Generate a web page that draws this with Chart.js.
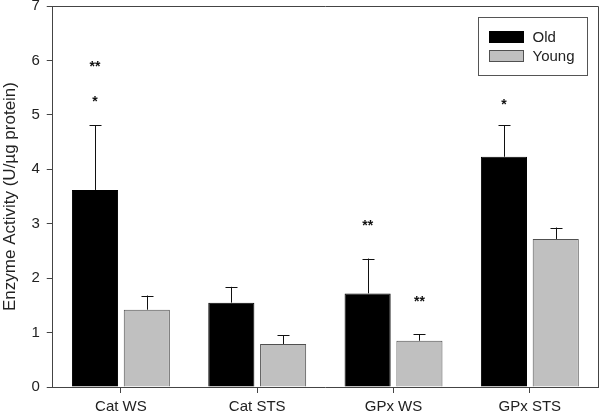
<!DOCTYPE html>
<html>
<head>
<meta charset="utf-8">
<script src="https://cdn.jsdelivr.net/npm/chart.js@4.4.1/dist/chart.umd.min.js"></script>
<style>
  html, body { margin: 0; padding: 0; background: #fff; }
  #wrap { width: 600px; height: 414px; }
</style>
</head>
<body>
<div id="wrap"><canvas id="enzymeChart" width="600" height="414"></canvas></div>
<script>
// --- Data ---
const categories = ['Cat WS', 'Cat STS', 'GPx WS', 'GPx STS'];
const oldMeans = [3.62, 1.55, 1.72, 4.23];
const oldErrors = [1.19, 0.29, 0.64, 0.58];
const youngMeans = [1.42, 0.79, 0.85, 2.72];
const youngErrors = [0.26, 0.16, 0.12, 0.21];
const yTicks = [0, 1, 2, 3, 4, 5, 6, 7];

// significance marks: category index, series index (0 old, 1 young), height, text
const sigCategory = [0, 0, 2, 2, 3];
const sigSeries = [0, 0, 0, 1, 0];
const sigValue = [5.92, 5.27, 3.0, 1.6, 5.22];
const sigText = ['**', '*', '**', '**', '*'];

const errors = [oldErrors, youngErrors];
const axisColor = '#444';
const textColor = '#222';
const fontFamily = '"Liberation Sans", Arial, sans-serif';

// error bars (upper only) drawn from the bar elements
const errorBarPlugin = {
  id: 'errorBars',
  afterDatasetsDraw(chart) {
    const ctx = chart.ctx;
    const y = chart.scales.y;
    ctx.save();
    ctx.strokeStyle = '#111';
    ctx.lineWidth = 1;
    chart.data.datasets.forEach((ds, di) => {
      chart.getDatasetMeta(di).data.forEach((bar, i) => {
        const top = y.getPixelForValue(ds.data[i] + errors[di][i]);
        const x = Math.round(bar.x) + 0.5;
        ctx.beginPath();
        ctx.moveTo(x, bar.y);
        ctx.lineTo(x, top);
        ctx.moveTo(x - 6, Math.round(top) + 0.5);
        ctx.lineTo(x + 6, Math.round(top) + 0.5);
        ctx.stroke();
      });
    });
    ctx.restore();
  }
};

// asterisks above bars
const sigPlugin = {
  id: 'sigMarks',
  afterDatasetsDraw(chart) {
    const ctx = chart.ctx;
    const y = chart.scales.y;
    const size = 14;
    ctx.save();
    ctx.fillStyle = '#111';
    ctx.font = 'bold ' + size + 'px ' + fontFamily;
    ctx.textAlign = 'center';
    ctx.textBaseline = 'alphabetic';
    sigText.forEach((t, k) => {
      const bar = chart.getDatasetMeta(sigSeries[k]).data[sigCategory[k]];
      ctx.fillText(t, bar.x, y.getPixelForValue(sigValue[k]) + size * 0.43);
    });
    ctx.restore();
  }
};

// top and right frame lines + boxed legend inside the plot
const framePlugin = {
  id: 'frameLegend',
  afterDraw(chart) {
    const ctx = chart.ctx;
    const a = chart.chartArea;
    ctx.save();
    ctx.strokeStyle = axisColor;
    ctx.lineWidth = 1;
    ctx.beginPath();
    ctx.moveTo(a.left, Math.round(a.top) + 0.5);
    ctx.lineTo(Math.round(a.right) + 0.5, Math.round(a.top) + 0.5);
    ctx.lineTo(Math.round(a.right) + 0.5, a.bottom);
    ctx.stroke();

    // legend box
    const bx = Math.round(a.right) - 120 + 0.5, by = Math.round(a.top) + 11 + 0.5;
    ctx.strokeStyle = '#555';
    ctx.strokeRect(bx, by, 109, 58);
    ctx.font = '15px ' + fontFamily;
    ctx.textBaseline = 'middle';
    ctx.textAlign = 'left';
    chart.data.datasets.forEach((ds, i) => {
      const sy = by + 14 + i * 19;
      ctx.fillStyle = ds.backgroundColor;
      ctx.fillRect(bx + 11, sy, 34, 11);
      ctx.strokeStyle = ds.borderColor;
      ctx.strokeRect(bx + 11, sy, 34, 11);
      ctx.fillStyle = textColor;
      ctx.fillText(ds.label, bx + 54, sy + 6);
    });
    ctx.restore();
  }
};

new Chart(document.getElementById('enzymeChart'), {
  type: 'bar',
  data: {
    labels: categories,
    datasets: [
      { label: 'Old', data: oldMeans, backgroundColor: '#000000', borderColor: '#000000', borderWidth: 1 },
      { label: 'Young', data: youngMeans, backgroundColor: '#c0c0c0', borderColor: '#505050', borderWidth: 1 }
    ]
  },
  options: {
    responsive: false,
    animation: false,
    devicePixelRatio: 1,
    categoryPercentage: 0.76,
    barPercentage: 0.89,
    layout: { padding: { top: 0, right: 2, bottom: 0, left: 0 } },
    plugins: {
      legend: { display: false },
      tooltip: { enabled: false }
    },
    scales: {
      x: {
        afterFit: axis => { axis.height = 27; },
        grid: { display: true, drawOnChartArea: false, offset: false, color: axisColor, tickLength: 6 },
        border: { color: axisColor },
        ticks: { color: textColor, padding: 5, font: { family: fontFamily, size: 15 } }
      },
      y: {
        min: 0,
        max: 7,
        afterBuildTicks: axis => { axis.ticks = yTicks.map(v => ({ value: v })); },
        afterFit: axis => { axis.paddingTop = 6; },
        grid: { display: true, drawOnChartArea: false, color: axisColor, tickLength: 6 },
        border: { color: axisColor },
        ticks: { color: textColor, padding: 7, font: { family: fontFamily, size: 15 } },
        title: {
          display: true,
          text: 'Enzyme Activity (U/\u00b5g protein)',
          color: textColor,
          padding: { top: 0, bottom: 4 },
          font: { family: fontFamily, size: 17 }
        }
      }
    }
  },
  plugins: [errorBarPlugin, sigPlugin, framePlugin]
});
</script>
</body>
</html>
